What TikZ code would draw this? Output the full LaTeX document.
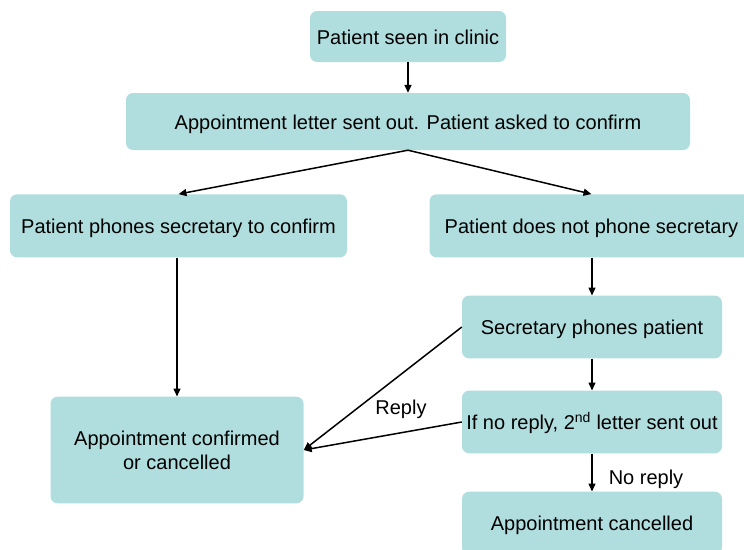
\documentclass[tikz,border=0pt]{standalone}
\usepackage{fontspec}
\setmainfont{Liberation Sans}
\usetikzlibrary{arrows.meta}
\definecolor{boxfill}{HTML}{B0DEDE}
\begin{document}
\begin{tikzpicture}[x=1pt,y=-1pt,
  box/.style={fill=boxfill, rounded corners=7pt, inner sep=0pt,
    font=\fontsize{20}{24}\selectfont, align=center},
  onebox/.style={box, text height=18pt, text depth=2.4pt},
  conn/.style={line width=1.5pt, -{Triangle[length=8pt,width=7pt]}},
  lbl/.style={font=\fontsize{20}{24}\selectfont, inner sep=0pt}]
\useasboundingbox (0,0) rectangle (744,549);
\clip (0,0) rectangle (744,549);
\node[onebox, minimum width=196pt, minimum height=51pt] (b1) at (408,36.5) {Patient seen in clinic};
\node[onebox, minimum width=564pt, minimum height=57pt] (b2) at (408,121.5) {Appointment letter sent out. Patient asked to confirm};
\node[onebox, minimum width=337pt, minimum height=63pt] (b3) at (178.5,225.8) {Patient phones secretary to confirm};
\node[onebox, minimum width=324pt, minimum height=63pt] (b4) at (591.5,225.8) {Patient does not phone secretary};
\node[onebox, minimum width=260pt, minimum height=62.6pt] (b5) at (592,327) {Secretary phones patient};
\node[onebox, minimum width=260pt, minimum height=62.6pt] (b6) at (592,422) {If no reply, 2\textsuperscript{nd} letter sent out};
\node[onebox, minimum width=260pt, minimum height=62.6pt] (b7) at (592,523) {Appointment cancelled};
\node[box, minimum width=253pt, minimum height=106.6pt] (b8) at (177,450) {Appointment confirmed\\ or cancelled};
\draw[conn] (b1.south) -- (b2.north);
\draw[conn] (b2.south) -- (b3.north);
\draw[conn] (b2.south) -- (b4.north);
\draw[conn] (b3.south -| b8.north) -- (b8.north);
\draw[conn] (b4.south -| b5.north) -- (b5.north);
\draw[conn] (b5.south) -- (b6.north);
\draw[conn] (b6.south) -- (b7.north);
\draw[conn] (b5.west) -- (b8.east);
\draw[conn] (b6.west) -- (b8.east);
\node[lbl] (reply) at (401,409) {Reply};
\node[lbl] (noreply) at (646,479) {No reply};
\end{tikzpicture}
\end{document}
